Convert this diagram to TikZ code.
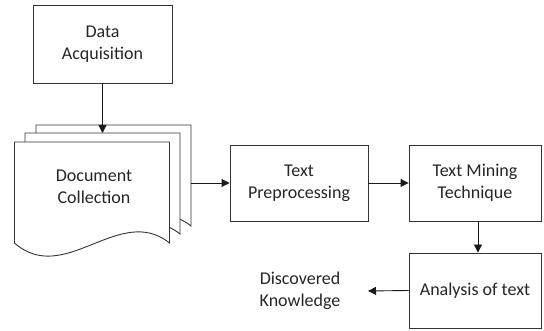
\documentclass[tikz,border=0pt]{standalone}
\usepackage{fontspec}
\setmainfont{Carlito}
\usetikzlibrary{arrows.meta}
\tikzset{
  box/.style={draw=black!80, line width=0.9pt, fill=white, align=center, inner sep=0pt,
    font=\fontsize{18}{22}\selectfont, text=black!85},
  lbl/.style={align=center, font=\fontsize{18}{22}\selectfont, text=black!85},
  page/.style={draw=black!80, line width=0.9pt, fill=white},
  arr/.style={draw=black!90, line width=0.9pt, -{Triangle[length=8pt,width=8pt]}}
}
\newcommand{\docpage}[2]{%
  \path[page] (#1,#2) -- ++(155,0) -- ++(0,101)
    .. controls ++(-50,-40) and ++(50,44) .. ++(-155,0) -- cycle;}
\begin{document}
\begin{tikzpicture}[x=1pt,y=-1pt]
\useasboundingbox (0,0) rectangle (544,331);
% stacked documents
\docpage{36}{125}
\docpage{25}{133}
\docpage{14.5}{142}
\node[lbl] (docs) at (94,187) {Document\\Collection};
\coordinate (midT) at (102.5,133);
\coordinate (backR) at (191,183);
% boxes
\node[box, minimum width=139pt, minimum height=78pt] (acq) at (102.5,44) {Data\\Acquisition};
\node[box, minimum width=138pt, minimum height=76pt] (pre) at (299,183) {Text\\Preprocessing};
\node[box, minimum width=132pt, minimum height=76pt] (tmt) at (475,183) {Text Mining\\Technique};
\node[box, minimum width=132pt, minimum height=75pt] (ana) at (475,290.5) {Analysis of text};
\node[lbl] (know) at (300,291) {Discovered\\Knowledge};
\coordinate (knowR) at (368,291);
% connectors
\draw[arr] (acq.south) -- (midT);
\draw[arr] (backR) -- (pre.west);
\draw[arr] (pre.east) -- (tmt.west);
\draw[arr] ([xshift=3pt]tmt.south) -- ([xshift=3pt]ana.north);
\draw[arr] (ana.west) -- (knowR);
\end{tikzpicture}
\end{document}
